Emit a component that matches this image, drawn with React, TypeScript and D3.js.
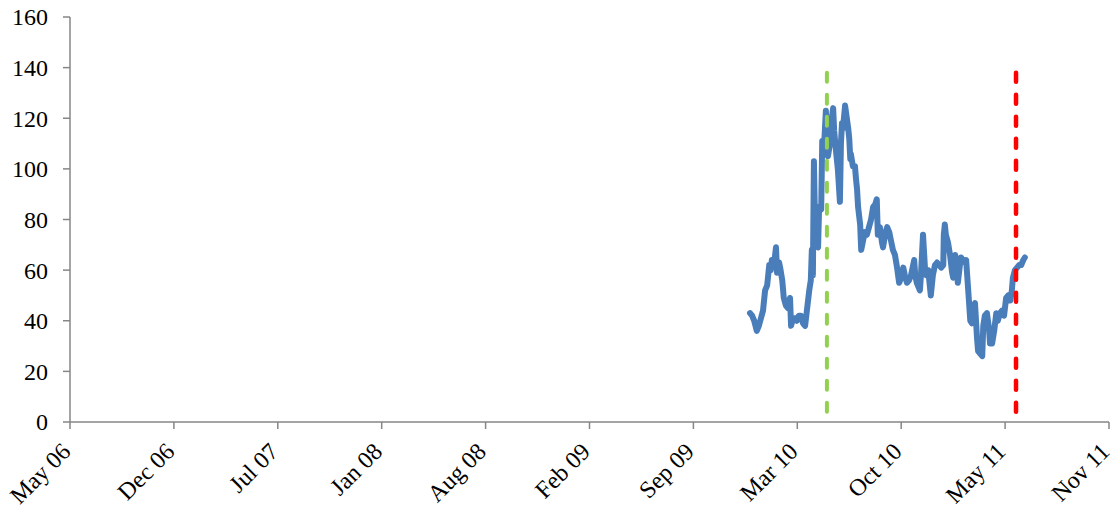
import React from "react";
import * as d3 from "d3";

// ---- data ----
const seriesDates: string[] = [
  "2009-12-28","2010-01-01","2010-01-05","2010-01-10","2010-01-14","2010-01-18","2010-01-22","2010-01-26","2010-01-30",
  "2010-02-03","2010-02-06","2010-02-08","2010-02-12","2010-02-16","2010-02-18","2010-02-22","2010-02-24","2010-02-28",
  "2010-03-03","2010-03-07","2010-03-11","2010-03-15","2010-03-17","2010-03-21","2010-03-25","2010-03-28",
  "2010-04-01","2010-04-05","2010-04-09","2010-04-13","2010-04-17","2010-04-21","2010-04-24","2010-04-26","2010-04-28","2010-04-30",
  "2010-05-02","2010-05-04","2010-05-08","2010-05-10","2010-05-14","2010-05-16","2010-05-19","2010-05-23","2010-05-25","2010-05-27","2010-05-31",
  "2010-06-02","2010-06-06","2010-06-08","2010-06-12","2010-06-15","2010-06-19","2010-06-21","2010-06-23","2010-06-25","2010-06-29",
  "2010-07-01","2010-07-05","2010-07-07","2010-07-09","2010-07-10","2010-07-14","2010-07-18","2010-07-20","2010-07-22","2010-07-24","2010-07-28","2010-07-30",
  "2010-08-03","2010-08-06","2010-08-10","2010-08-14","2010-08-18","2010-08-22","2010-08-26","2010-08-29","2010-08-31",
  "2010-09-04","2010-09-08","2010-09-10","2010-09-14","2010-09-18","2010-09-22","2010-09-25","2010-09-29",
  "2010-10-03","2010-10-07","2010-10-11","2010-10-15","2010-10-19","2010-10-22","2010-10-26","2010-10-30",
  "2010-11-03","2010-11-07","2010-11-09","2010-11-11","2010-11-14","2010-11-18","2010-11-20","2010-11-22","2010-11-26","2010-11-30",
  "2010-12-02","2010-12-06","2010-12-10","2010-12-11","2010-12-15","2010-12-19","2010-12-23","2010-12-27","2010-12-31",
  "2011-01-04","2011-01-05","2011-01-07","2011-01-09","2011-01-13","2011-01-17","2011-01-21","2011-01-23","2011-01-27","2011-01-30",
  "2011-02-01","2011-02-05","2011-02-07","2011-02-11","2011-02-15","2011-02-17","2011-02-21","2011-02-25","2011-02-28",
  "2011-03-02","2011-03-06","2011-03-08","2011-03-10","2011-03-12","2011-03-16","2011-03-20","2011-03-22","2011-03-25","2011-03-29",
  "2011-04-02","2011-04-04","2011-04-08","2011-04-12","2011-04-16","2011-04-19","2011-04-23","2011-04-27",
  "2011-05-01","2011-05-05","2011-05-09","2011-05-13","2011-05-16","2011-05-18","2011-05-22","2011-05-26","2011-05-30",
  "2011-06-03","2011-06-07","2011-06-10",
];

const seriesValues: number[] = [
  43,42,40,36,38,41,44,52,54,
  62,60,64,62,69,59,63,61,56,
  49,46,45,49,38,41,41,40,
  42,42,39,38,45,52,56,68,58,103,
  80,70,69,85,84,111,107,123,112,105,110,
  118,124,115,106,100,87,110,118,116,125,
  122,116,112,104,106,101,101,96,92,85,78,68,
  72,75,74,77,80,85,86,88,74,
  77,71,69,74,77,75,72,68,
  66,61,55,57,61,58,55,56,
  58,62,64,58,55,53,52,58,74,60,
  58,60,52,50,58,62,63,62,61,
  62,74,78,74,71,66,59,57,66,60,
  55,62,65,64,63,64,52,40,39,
  45,47,40,33,28,27,26,38,42,43,
  37,31,31,36,43,40,43,44,
  42,49,50,48,52,57,60,61,62,
  62,64,65,
];

const greenEventDate = "2010-05-25";
const redEventDate = "2011-05-24";
const eventTopValue = 138;

const axisStartDate = "2006-05-29";
const axisStepDays = 200;
const axisTickCount = 11;
const yTicks: number[] = [0, 20, 40, 60, 80, 100, 120, 140, 160];

// ---- layout ----
const W = 1116;
const H = 510;
const X0 = 70;
const X1 = 1109;
const Y0 = 422;
const Y1 = 17;
const AXIS = "#868686";
const FONT = "'Liberation Serif', 'DejaVu Serif', serif";

export default function App() {
  const parse = d3.timeParse("%Y-%m-%d");
  const start = parse(axisStartDate) as Date;
  const xTicks = d3.range(axisTickCount).map((k) => d3.timeDay.offset(start, k * axisStepDays));
  const x = d3.scaleTime().domain([xTicks[0], xTicks[xTicks.length - 1]]).range([X0, X1]);
  const y = d3.scaleLinear().domain([0, 160]).range([Y0, Y1]);
  const fmt = d3.timeFormat("%b %y");

  const pts = seriesDates.map((d, i) => ({ d: parse(d) as Date, v: seriesValues[i] }));
  const line = d3
    .line<{ d: Date; v: number }>()
    .x((p) => x(p.d))
    .y((p) => y(p.v));

  const gx = x(parse(greenEventDate) as Date);
  const rx = x(parse(redEventDate) as Date);

  return (
    <div style={{ position: "absolute", left: 0, top: 0 }}>
      <svg width={W} height={H} style={{ display: "block", background: "#fff" }}>
        {/* y axis */}
        <line x1={X0} x2={X0} y1={y(160)} y2={Y0} stroke={AXIS} strokeWidth={1.5} />
        {yTicks.map((t) => (
          <g key={t}>
            <line x1={X0 - 7} x2={X0} y1={y(t)} y2={y(t)} stroke={AXIS} strokeWidth={1.5} />
            <text
              x={X0 - 22}
              y={y(t)}
              dy="0.35em"
              textAnchor="end"
              fontFamily={FONT}
              fontSize={24}
              fill="#000"
            >
              {t}
            </text>
          </g>
        ))}
        {/* x axis */}
        <line x1={X0} x2={X1} y1={Y0} y2={Y0} stroke={AXIS} strokeWidth={1.5} />
        {xTicks.map((t, i) => (
          <g key={i}>
            <line x1={x(t)} x2={x(t)} y1={Y0} y2={Y0 + 7} stroke={AXIS} strokeWidth={1.5} />
            <text
              transform={`translate(${x(t) + 2},${Y0 + 31}) rotate(-45)`}
              textAnchor="end"
              fontFamily={FONT}
              fontSize={24}
              fill="#000"
            >
              {fmt(t)}
            </text>
          </g>
        ))}
        {/* series */}
        <path
          d={line(pts) || ""}
          fill="none"
          stroke="#4a7ebb"
          strokeWidth={6}
          strokeLinejoin="round"
          strokeLinecap="round"
        />
        {/* event lines */}
        <line
          x1={gx}
          x2={gx}
          y1={y(eventTopValue)}
          y2={Y0}
          stroke="#92d050"
          strokeWidth={4}
          strokeDasharray="9 13"
          strokeLinecap="round"
        />
        <line
          x1={rx}
          x2={rx}
          y1={y(eventTopValue)}
          y2={Y0}
          stroke="#ff0000"
          strokeWidth={4.5}
          strokeDasharray="9 13"
          strokeLinecap="round"
        />
      </svg>
    </div>
  );
}
